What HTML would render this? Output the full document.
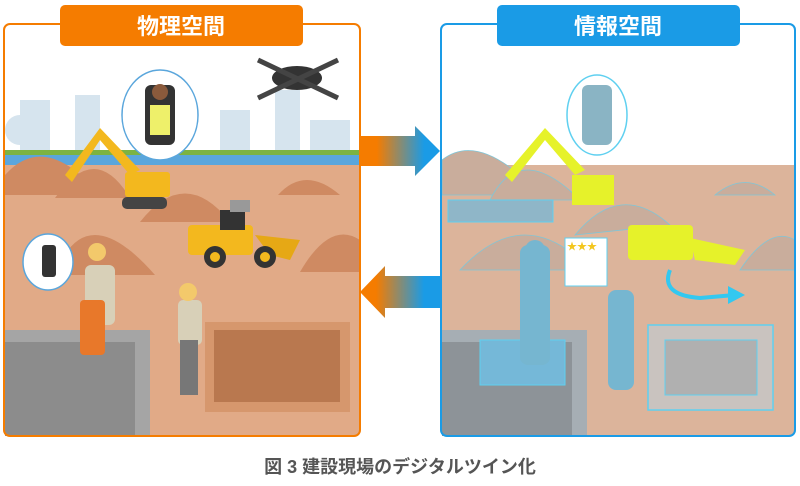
<!DOCTYPE html>
<html><head><meta charset="utf-8"><style>
body{margin:0;width:800px;height:481px;background:#fff;overflow:hidden;font-family:"Liberation Sans","Noto Sans CJK JP",sans-serif}
</style></head><body>
<svg width="800" height="481" viewBox="0 0 800 481" xmlns="http://www.w3.org/2000/svg">
<defs>
<linearGradient id="ga" x1="0" x2="1"><stop offset="0.2" stop-color="#f57c00"/><stop offset="0.8" stop-color="#1a9be6"/></linearGradient>
<linearGradient id="gb" x1="0" x2="1"><stop offset="0.2" stop-color="#f57c00"/><stop offset="0.8" stop-color="#1a9be6"/></linearGradient>
</defs>
<rect x="4" y="24" width="356" height="412" rx="6" fill="#fff"/>
<g>
<rect x="20" y="100" width="30" height="55" fill="#d6e4ee"/>
<rect x="75" y="95" width="25" height="60" fill="#d6e4ee"/>
<rect x="220" y="110" width="30" height="45" fill="#d6e4ee"/>
<rect x="275" y="90" width="25" height="65" fill="#d6e4ee"/>
<rect x="310" y="120" width="40" height="35" fill="#d6e4ee"/>
<circle cx="20" cy="130" r="15" fill="#d6e4ee"/>
<circle cx="330" cy="135" r="12" fill="#d6e4ee"/>
</g>
<rect x="5" y="150" width="354" height="5" fill="#7cb342"/>
<rect x="5" y="155" width="354" height="10" fill="#5aa6dc"/>
<rect x="5" y="165" width="354" height="270" fill="#e1aa87"/>
<path d="M5 195 L5 175 Q45 130 100 195Z" fill="#cf8a62"/>
<path d="M55 198 Q95 140 130 198Z" fill="#cf8a62"/>
<path d="M140 222 Q185 165 230 222Z" fill="#cf8a62"/>
<path d="M278 195 Q305 165 340 195Z" fill="#cf8a62"/>
<path d="M55 275 Q85 195 155 275Z" fill="#cf8a62"/>
<path d="M300 272 Q330 220 360 240 L360 272Z" fill="#cf8a62"/>
<rect x="5" y="330" width="145" height="106" fill="#a5a5a5"/>
<rect x="5" y="342" width="130" height="94" fill="#8c8c8c"/>
<rect x="205" y="322" width="145" height="90" fill="#d6976d"/>
<rect x="214" y="330" width="126" height="72" fill="#b9784f"/>
<path d="M65 175 L100 128 L140 170 L130 175 L100 140 L72 182Z" fill="#f3b81e"/>
<rect x="125" y="172" width="45" height="25" rx="3" fill="#f3b81e"/>
<rect x="122" y="197" width="45" height="12" rx="5" fill="#444"/>
<rect x="188" y="225" width="65" height="30" rx="4" fill="#f3b81e"/>
<rect x="220" y="210" width="25" height="20" fill="#333"/>
<path d="M255 235 L300 240 L290 260 L270 255Z" fill="#e6a815"/>
<circle cx="215" cy="257" r="11" fill="#333"/><circle cx="265" cy="257" r="11" fill="#333"/>
<circle cx="215" cy="257" r="5" fill="#f3b81e"/><circle cx="265" cy="257" r="5" fill="#f3b81e"/>
<rect x="230" y="200" width="20" height="12" fill="#999"/>
<ellipse cx="297" cy="78" rx="25" ry="12" fill="#333"/>
<path d="M258 60 L338 98 M258 98 L338 60" stroke="#444" stroke-width="5"/>
<ellipse cx="160" cy="115" rx="38" ry="45" fill="#fff" stroke="#5aa6dc" stroke-width="1.5"/>
<rect x="145" y="85" width="30" height="60" rx="6" fill="#333"/>
<rect x="150" y="105" width="20" height="30" fill="#eef06a"/>
<circle cx="160" cy="92" r="8" fill="#8a5a3c"/>
<ellipse cx="48" cy="262" rx="25" ry="28" fill="#fff" stroke="#5aa6dc" stroke-width="1.5"/>
<rect x="42" y="245" width="14" height="32" rx="3" fill="#333"/>
<rect x="85" y="265" width="30" height="60" rx="6" fill="#d8d0b8"/>
<circle cx="97" cy="252" r="9" fill="#f3c96b"/>
<rect x="80" y="300" width="25" height="55" rx="4" fill="#e8782a"/>
<rect x="178" y="300" width="24" height="45" rx="5" fill="#d8d0b8"/>
<circle cx="188" cy="292" r="9" fill="#f3c96b"/>
<rect x="180" y="340" width="18" height="55" fill="#777"/>
<rect x="4" y="24" width="356" height="412" rx="6" fill="none" stroke="#f57c00" stroke-width="2"/>
<rect x="441" y="24" width="354" height="412" rx="6" fill="#fff"/>
<rect x="442" y="165" width="352" height="270" fill="#dcb49b"/>
<path d="M442 195 L442 160 Q480 130 540 195Z" fill="#c9ad9c" stroke="#7fc6d8" stroke-width="0.8"/>
<path d="M490 200 Q520 140 580 200Z" fill="#c9ad9c" stroke="#7fc6d8" stroke-width="0.8"/>
<path d="M575 235 Q620 180 670 225Z" fill="#c9ad9c" stroke="#7fc6d8" stroke-width="0.8"/>
<path d="M460 270 Q525 200 590 270Z" fill="#c9ad9c" stroke="#7fc6d8" stroke-width="0.8"/>
<path d="M740 270 Q770 225 795 240 L795 270Z" fill="#c9ad9c" stroke="#7fc6d8" stroke-width="0.8"/>
<path d="M715 195 Q745 170 775 195Z" fill="#c9ad9c" stroke="#7fc6d8" stroke-width="0.8"/>
<rect x="448" y="200" width="105" height="22" fill="#8fb6c8" stroke="#5fd0f0"/>
<rect x="442" y="330" width="145" height="106" fill="#a6aeb4"/>
<rect x="442" y="342" width="130" height="94" fill="#8d9398"/>
<rect x="480" y="340" width="85" height="45" fill="#75b8d8" stroke="#5fd0f0"/>
<rect x="648" y="325" width="125" height="85" fill="#c9c3bf" stroke="#5fd0f0" stroke-width="1.5"/>
<rect x="665" y="340" width="92" height="55" fill="#b0b0b0" stroke="#5fd0f0"/>
<path d="M505 175 L545 128 L585 170 L575 175 L545 140 L512 182Z" fill="#e6f22a"/>
<rect x="572" y="175" width="42" height="30" fill="#e6f22a"/>
<rect x="628" y="225" width="65" height="35" rx="4" fill="#e6f22a"/>
<path d="M690 238 L745 250 L735 265 L695 260Z" fill="#e6f22a"/>
<ellipse cx="597" cy="115" rx="30" ry="40" fill="#fff" stroke="#5fd0f0" stroke-width="1.5"/>
<rect x="582" y="85" width="30" height="60" rx="6" fill="#8ab4c4"/>
<rect x="520" y="245" width="30" height="120" rx="8" fill="#76b6d0"/>
<circle cx="535" cy="250" r="10" fill="#76b6d0"/>
<rect x="608" y="290" width="26" height="100" rx="8" fill="#76b6d0"/>
<rect x="565" y="238" width="42" height="48" fill="#fff" stroke="#5fd0f0"/>
<text x="567" y="250" font-size="10" fill="#f3c61e">★★★</text>
<path d="M670 270 Q660 295 700 298 L735 295" fill="none" stroke="#33c8f0" stroke-width="4"/>
<path d="M728 286 L745 295 L728 304Z" fill="#33c8f0"/>
<rect x="441" y="24" width="354" height="412" rx="6" fill="none" stroke="#1a9be6" stroke-width="2"/>
<rect x="60" y="5" width="243" height="41" rx="5" fill="#f57c00"/>
<text x="181" y="34" font-size="22" font-weight="bold" fill="#fff" text-anchor="middle" font-family="Liberation Sans, Noto Sans CJK JP, sans-serif">物理空間</text>
<rect x="497" y="5" width="243" height="41" rx="5" fill="#1a9be6"/>
<text x="618" y="34" font-size="22" font-weight="bold" fill="#fff" text-anchor="middle" font-family="Liberation Sans, Noto Sans CJK JP, sans-serif">情報空間</text>
<path d="M361 136 L415 136 L415 126 L440 151 L415 176 L415 166 L361 166Z" fill="url(#ga)"/>
<path d="M440 276 L385 276 L385 266 L360 292 L385 318 L385 308 L440 308Z" fill="url(#gb)"/>
<text x="400" y="473" font-size="18" font-weight="bold" fill="#555" text-anchor="middle" font-family="Liberation Sans, Noto Sans CJK JP, sans-serif">図 3  建設現場のデジタルツイン化</text>
</svg>
</body></html>
